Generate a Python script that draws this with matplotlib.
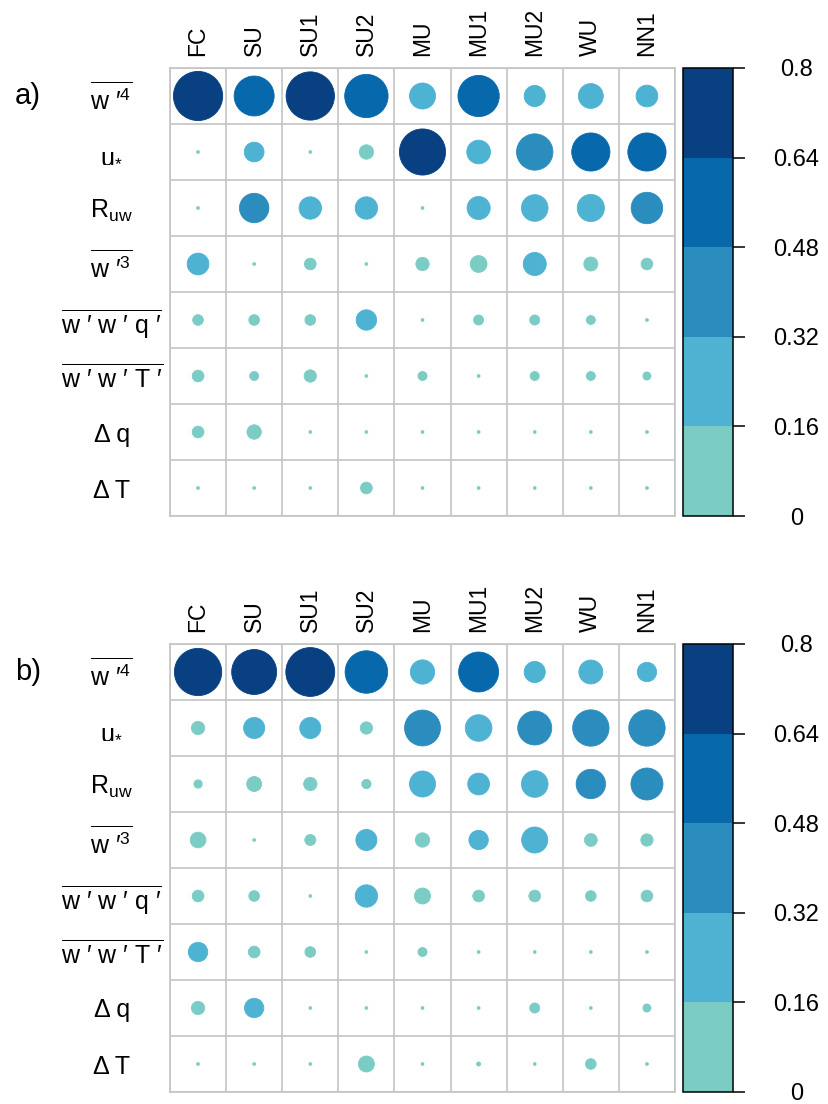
import numpy as np
import matplotlib
matplotlib.use("Agg")
import matplotlib.pyplot as plt
from matplotlib.patches import Circle
from matplotlib.collections import PatchCollection
from matplotlib.colors import ListedColormap, BoundaryNorm
from matplotlib.cm import ScalarMappable

plt.rcParams['font.family'] = ['Liberation Sans', 'DejaVu Sans']
plt.rcParams['mathtext.fontset'] = 'custom'
plt.rcParams['mathtext.rm'] = 'Liberation Sans'
plt.rcParams['mathtext.it'] = 'Liberation Sans:italic'
plt.rcParams['mathtext.bf'] = 'Liberation Sans:bold'

cases = ['FC', 'SU', 'SU1', 'SU2', 'MU', 'MU1', 'MU2', 'WU', 'NN1']
predictors = [
    r"$\overline{\mathrm{w}\ ′^{4}}$",
    r"$\mathrm{u}_{*}$",
    r"$\mathrm{R}_{\mathrm{uw}}$",
    r"$\overline{\mathrm{w}\ ′^{3}}$",
    r"$\overline{\mathrm{w}\ ′\ \mathrm{w}\ ′\ \mathrm{q}\ ′}$",
    r"$\overline{\mathrm{w}\ ′\ \mathrm{w}\ ′\ \mathrm{T}\ ′}$",
    "Δ q",
    "Δ T",
]

# importance values, rows = predictors, cols = cases
values_a = [
    [0.78, 0.55, 0.755, 0.63, 0.27, 0.58, 0.19, 0.25, 0.20],
    [0.006, 0.17, 0.006, 0.10, 0.70, 0.23, 0.47, 0.51, 0.51],
    [0.006, 0.33, 0.21, 0.21, 0.006, 0.22, 0.28, 0.29, 0.37],
    [0.20, 0.006, 0.071, 0.006, 0.088, 0.13, 0.22, 0.096, 0.071],
    [0.061, 0.061, 0.061, 0.18, 0.006, 0.055, 0.055, 0.046, 0.006],
    [0.071, 0.046, 0.077, 0.006, 0.046, 0.006, 0.046, 0.046, 0.038],
    [0.071, 0.10, 0.006, 0.006, 0.006, 0.006, 0.006, 0.006, 0.006],
    [0.006, 0.006, 0.006, 0.071, 0.006, 0.006, 0.006, 0.006, 0.006],
]
values_b = [
    [0.73, 0.67, 0.77, 0.61, 0.24, 0.55, 0.19, 0.235, 0.165],
    [0.088, 0.19, 0.19, 0.077, 0.46, 0.28, 0.42, 0.47, 0.47],
    [0.040, 0.107, 0.088, 0.048, 0.27, 0.20, 0.28, 0.33, 0.38],
    [0.116, 0.006, 0.064, 0.19, 0.10, 0.165, 0.27, 0.082, 0.077],
    [0.071, 0.061, 0.006, 0.21, 0.12, 0.071, 0.071, 0.061, 0.071],
    [0.165, 0.071, 0.061, 0.006, 0.046, 0.006, 0.006, 0.006, 0.006],
    [0.088, 0.165, 0.006, 0.006, 0.006, 0.006, 0.055, 0.006, 0.038],
    [0.006, 0.006, 0.006, 0.12, 0.006, 0.012, 0.006, 0.061, 0.006],
]

bounds = [0, 0.16, 0.32, 0.48, 0.64, 0.8]
bound_labels = ['0', '0.16', '0.32', '0.48', '0.64', '0.8']
colors = ['#7BCCC4', '#4EB3D3', '#2B8CBE', '#0868AC', '#084081']

cmap = ListedColormap(colors)
norm = BoundaryNorm(bounds, cmap.N)

W, H = 829, 1104
fig = plt.figure(figsize=(W / 100, H / 100), dpi=100)


def draw_panel(top_px, values, tag):
    vals = np.array(values)
    nr, nc = vals.shape
    bottom = 1 - (top_px + 448) / H
    ax = fig.add_axes([170 / W, bottom, 505 / W, 448 / H])
    cax = fig.add_axes([683 / W, bottom, 50 / W, 448 / H])

    circles = []
    for i in range(nr):
        for j in range(nc):
            r = 0.446 * (vals[i, j] / bounds[-1]) ** 0.6
            circles.append(Circle((j + 0.5, i + 0.5), max(r, 0.025)))
    pc = PatchCollection(circles, cmap=cmap, norm=norm, edgecolor='face', linewidth=0.6)
    pc.set_array(vals.ravel())
    ax.add_collection(pc)

    ax.set_xlim(0, nc)
    ax.set_ylim(nr, 0)
    ax.set_xticks(np.arange(nc + 1), minor=True)
    ax.set_yticks(np.arange(nr + 1), minor=True)
    ax.grid(which='minor', color='#C4C4C4', linewidth=1.2)
    ax.tick_params(which='both', length=0)
    for s in ax.spines.values():
        s.set_color('#C4C4C4')
        s.set_linewidth(1.2)

    ax.xaxis.tick_top()
    ax.set_xticks(np.arange(nc) + 0.5)
    ax.set_xticklabels(cases, rotation=90, fontsize=16.5)
    ax.tick_params(axis='x', which='major', pad=9)
    ax.set_yticks(np.arange(nr) + 0.5)
    ax.set_yticklabels(predictors, fontsize=18, ha='center')
    ax.tick_params(axis='y', which='major', pad=42)

    cb = fig.colorbar(ScalarMappable(norm=norm, cmap=cmap), cax=cax, ticks=bounds)
    cb.ax.set_yticklabels(bound_labels)
    cb.ax.tick_params(length=8.6, width=1.1, pad=37, labelsize=17)
    for lab in cb.ax.get_yticklabels():
        lab.set_ha('center')
    cb.outline.set_linewidth(1.1)
    cb.outline.set_edgecolor('black')

    fig.text(15 / W, 1 - (top_px + 28) / H, tag, fontsize=21, ha='left', va='center')


draw_panel(68, values_a, 'a)')
draw_panel(644, values_b, 'b)')

plt.savefig('out.png', dpi=100)
